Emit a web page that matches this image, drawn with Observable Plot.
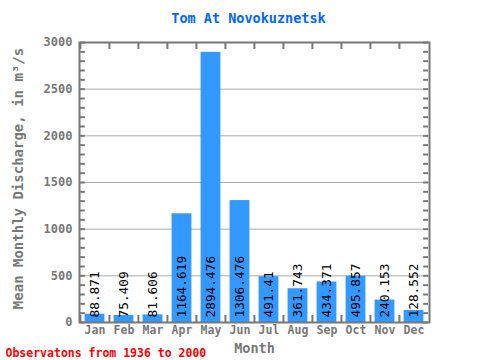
<!DOCTYPE html>
<html>
<head>
<meta charset="utf-8">
<script src="https://cdn.jsdelivr.net/npm/d3@7"></script>
<script src="https://cdn.jsdelivr.net/npm/@observablehq/plot@0.6"></script>
<style>
  body { margin: 0; background: #fff; }
  #chart svg { display: block; }
</style>
</head>
<body>
<div id="chart"></div>
<script>
const months = ["Jan","Feb","Mar","Apr","May","Jun","Jul","Aug","Sep","Oct","Nov","Dec"];
const discharge = [88.871, 75.409, 81.606, 1164.619, 2894.476, 1306.476, 491.41, 361.743, 434.371, 495.857, 240.153, 128.552];
const labels = ["88.871","75.409","81.606","1164.619","2894.476","1306.476","491.41","361.743","434.371","495.857","240.153","128.552"];
const yTicks = [0, 500, 1000, 1500, 2000, 2500, 3000];
const minorTicks = d3.range(0, 3001, 100);

const data = months.map((m, i) => ({month: m, value: discharge[i], label: labels[i]}));

const W = 480, H = 360;
const mL = 79, mR = 51, mT = 42, mB = 38;
const bw = (W - mL - mR) / months.length;
const mono = "DejaVu Sans Mono, monospace";
const gray = "#777";

const chart = Plot.plot({
  width: W, height: H,
  marginLeft: mL, marginRight: mR, marginTop: mT, marginBottom: mB,
  style: {fontFamily: mono, background: "#fff"},
  x: {type: "band", domain: months, padding: 0, label: null},
  y: {domain: [0, 3000], label: null},
  marks: [
    Plot.gridY(yTicks.slice(1, -1), {stroke: "#aaa", strokeOpacity: 1, strokeWidth: 1}),
    Plot.barY(data, {x: "month", y: "value", fill: "#3399ff", insetLeft: 4.6, insetRight: 4.6}),
    Plot.text(data, {x: "month", y: 0, text: "label", rotate: -90, textAnchor: "start", dy: -5, fontSize: 12.8, fill: "#000", fontFamily: mono}),
    // top & bottom ticks at band boundaries
    Plot.ruleX(months, {x: d => d, dx: -bw / 2, y1: 3000, y2: 3000 - 75, stroke: gray, strokeWidth: 2}),
    Plot.ruleX(months, {x: d => d, dx: -bw / 2, y1: 0, y2: 75, stroke: gray, strokeWidth: 2}),
    // left & right minor ticks
    Plot.tickY(minorTicks, {y: d => d, x: () => "Jan", insetRight: bw - 5, stroke: gray, strokeWidth: 2}),
    Plot.tickY(minorTicks, {y: d => d, x: () => "Dec", insetLeft: bw - 5, stroke: gray, strokeWidth: 2}),
    Plot.frame({stroke: gray, strokeWidth: 2}),
    Plot.axisY(yTicks, {anchor: "left", tickSize: 0, tickPadding: 7, tickFormat: "d", fontSize: 12, fontWeight: "bold", fill: gray, label: null}),
    Plot.axisX({anchor: "bottom", tickSize: 0, tickPadding: 3, fontSize: 11.5, fontWeight: "bold", fill: gray, label: null}),
    // title, axis labels, caption
    Plot.text(["Tom At Novokuznetsk"], {frameAnchor: "top", dy: -24, dx: -6, lineAnchor: "middle", text: d => d, fill: "#0066ff", fontSize: 13.5, fontWeight: "bold", fontFamily: mono}),
    Plot.text(["Month"], {frameAnchor: "bottom", dy: 26, lineAnchor: "middle", text: d => d, fill: gray, fontSize: 13.5, fontWeight: "bold", fontFamily: mono}),
    Plot.text(["Mean Monthly Discharge, in m\u00b3/s"], {frameAnchor: "left", dx: -61, dy: -4, rotate: -90, textAnchor: "middle", text: d => d, fill: gray, fontSize: 14, fontWeight: "bold", fontFamily: mono}),
    Plot.text(["Observatons from 1936 to 2000"], {frameAnchor: "bottom-left", dx: -74, dy: 31, lineAnchor: "middle", textAnchor: "start", text: d => d, fill: "#ff0000", fontSize: 11.5, fontWeight: "bold", fontFamily: mono})
  ]
});
document.getElementById("chart").appendChild(chart);
</script>
</body>
</html>
